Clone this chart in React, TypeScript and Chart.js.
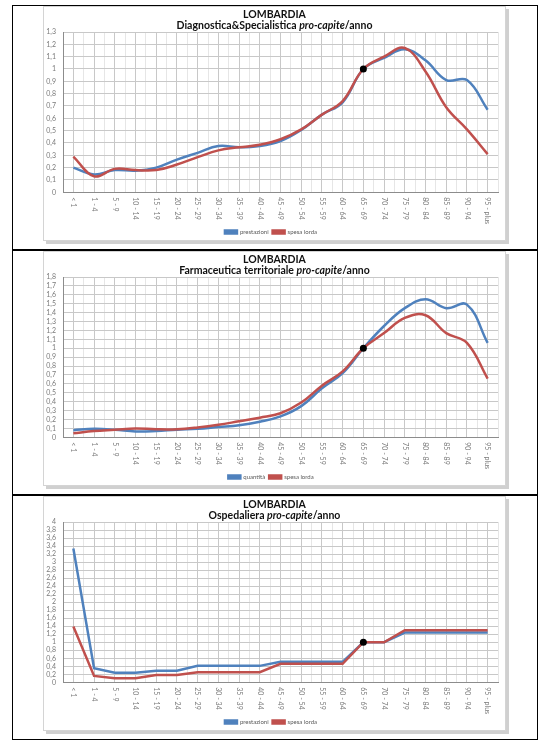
import React, { useEffect, useRef } from "react";
import { Chart, registerables } from "chart.js";

Chart.register(...registerables);

const categories = [
  "< 1", "1 - 4", "5 - 9", "10 - 14", "15 - 19", "20 - 24", "25 - 29", "30 - 34",
  "35 - 39", "40 - 44", "45 - 49", "50 - 54", "55 - 59", "60 - 64", "65 - 69",
  "70 - 74", "75 - 79", "80 - 84", "85 - 89", "90 - 94", "95 - plus",
];

// Panel 1: Diagnostica & Specialistica
const diagPrestazioni = [0.2, 0.145, 0.18, 0.175, 0.2, 0.265, 0.32, 0.375, 0.365, 0.375, 0.415, 0.505, 0.63, 0.73, 1.0, 1.09, 1.16, 1.07, 0.91, 0.91, 0.67];
const diagSpesa = [0.29, 0.13, 0.19, 0.18, 0.18, 0.225, 0.285, 0.34, 0.365, 0.385, 0.43, 0.51, 0.63, 0.74, 1.0, 1.1, 1.17, 0.98, 0.69, 0.51, 0.31];

// Panel 2: Farmaceutica territoriale
const farmQuantita = [0.08, 0.095, 0.085, 0.065, 0.07, 0.085, 0.095, 0.115, 0.135, 0.175, 0.235, 0.35, 0.55, 0.72, 1.0, 1.25, 1.45, 1.55, 1.45, 1.49, 1.06];
const farmSpesa = [0.045, 0.07, 0.085, 0.1, 0.09, 0.09, 0.11, 0.14, 0.18, 0.22, 0.27, 0.39, 0.58, 0.74, 1.0, 1.17, 1.34, 1.37, 1.17, 1.06, 0.66];

// Panel 3: Ospedaliera
const ospPrestazioni = [3.34, 0.35, 0.24, 0.24, 0.29, 0.29, 0.41, 0.41, 0.41, 0.41, 0.51, 0.51, 0.51, 0.51, 1.0, 1.0, 1.24, 1.24, 1.24, 1.24, 1.24];
const ospSpesa = [1.39, 0.16, 0.1, 0.1, 0.18, 0.18, 0.25, 0.25, 0.25, 0.25, 0.46, 0.46, 0.46, 0.46, 1.0, 1.0, 1.3, 1.3, 1.3, 1.3, 1.3];

const titleRegion = "LOMBARDIA";
const panelTitles = [
  ["Diagnostica&Specialistica ", "pro-capite", "/anno"],
  ["Farmaceutica territoriale ", "pro-capite", "/anno"],
  ["Ospedaliera ", "pro-capite", "/anno"],
];
const legendLabels = [
  ["prestazioni", "spesa lorda"],
  ["quantità", "spesa lorda"],
  ["prestazioni", "spesa lorda"],
];
const yMaxes = [1.3, 1.8, 4];
const ySteps = [0.1, 0.1, 0.2];
const smooth = [true, true, false];
const seriesA = [diagPrestazioni, farmQuantita, ospPrestazioni];
const seriesB = [diagSpesa, farmSpesa, ospSpesa];
const markerIndex = 14;

const BLUE = "#4F81BD";
const RED = "#C0504D";
const FONT = "Lato, 'Open Sans', sans-serif";

const xLabelPlugin = {
  id: "xRotLabels",
  afterDraw(chart: any) {
    const xs = chart.scales.x;
    const ctx = chart.ctx;
    ctx.save();
    ctx.font = `7px ${FONT}`;
    ctx.fillStyle = "#7a7a7a";
    ctx.textAlign = "left";
    ctx.textBaseline = "middle";
    categories.forEach((lab, i) => {
      const x = xs.getPixelForValue(i);
      ctx.save();
      ctx.translate(x, xs.top + 5);
      ctx.rotate(Math.PI / 2);
      ctx.fillText(lab, 0, 0);
      ctx.restore();
    });
    ctx.restore();
  },
};

function fmt(v: number): string {
  const r = Math.round(v * 10) / 10;
  return String(r).replace(".", ",");
}

const CANVAS_W = 461;
const CANVAS_H = 238;

function Panel({ idx }: { idx: number }) {
  const ref = useRef<HTMLCanvasElement | null>(null);
  useEffect(() => {
    if (!ref.current) return;
    const a = seriesA[idx];
    const b = seriesB[idx];
    const tension = smooth[idx] ? 0.4 : 0;
    const chart = new Chart(ref.current, {
      type: "line",
      data: {
        datasets: [
          {
            label: legendLabels[idx][0],
            data: a.map((y, i) => ({ x: i, y })),
            borderColor: BLUE,
            backgroundColor: BLUE,
            borderWidth: 2.5,
            pointRadius: 0,
            tension,
            order: 2,
          },
          {
            label: legendLabels[idx][1],
            data: b.map((y, i) => ({ x: i, y })),
            borderColor: RED,
            backgroundColor: RED,
            borderWidth: 2.5,
            pointRadius: (c: any) => (c.dataIndex === markerIndex ? 3.5 : 0),
            pointBackgroundColor: "#000",
            pointBorderColor: "#000",
            pointBorderWidth: 0,
            tension,
            order: 1,
          },
        ],
      },
      options: {
        animation: false,
        responsive: false,
        layout: { padding: { top: 25, right: 7, left: 0, bottom: 0 } },
        plugins: {
          legend: {
            position: "bottom",
            labels: {
              boxWidth: 12,
              boxHeight: 3,
              padding: 4,
              color: "#595959",
              font: { size: 6, family: FONT },
              sort: (p: any, q: any) => p.datasetIndex - q.datasetIndex,
            },
          },
          title: { display: false },
          tooltip: { enabled: false },
        },
        scales: {
          x: {
            type: "linear",
            min: -0.5,
            max: categories.length - 0.5,
            ticks: { display: false, stepSize: 0.5, autoSkip: false },
            grid: {
              drawTicks: false,
              color: (c: any) => {
                const v = c.tick ? c.tick.value : 0;
                return Math.abs(v - Math.round(v)) < 1e-6 ? "#c8c8c8" : "#e6e6e6";
              },
            },
            border: { color: "#8c8c8c" },
            afterFit: (s: any) => {
              s.height = 32.7;
            },
          },
          y: {
            min: 0,
            max: yMaxes[idx],
            ticks: {
              stepSize: ySteps[idx],
              autoSkip: false,
              padding: 7,
              color: "#7a7a7a",
              font: { size: 7, family: FONT },
              callback: (v: any) => fmt(Number(v)),
            },
            grid: { drawTicks: false, color: "#c8c8c8" },
            border: { color: "#8c8c8c" },
            afterFit: (s: any) => {
              s.width = 19;
            },
          },
        },
      },
      plugins: [xLabelPlugin],
    } as any);
    return () => chart.destroy();
  }, [idx]);

  const top = 5 + 245 * idx;
  return (
    <>
      <div
        style={{
          position: "absolute",
          left: 12,
          top,
          width: 526,
          height: 245,
          border: "1.5px solid #000",
          boxSizing: "border-box",
        }}
      />
      <div
        style={{
          position: "absolute",
          left: 43,
          top: top + 1,
          width: 463,
          height: 235,
          border: "1px solid #d4d4d4",
          boxSizing: "border-box",
          boxShadow: "3px 3px 0 #d0d0d0",
          background: "#fff",
        }}
      >
        <canvas
          ref={ref}
          width={CANVAS_W}
          height={CANVAS_H}
          style={{ display: "block", position: "absolute", left: 0, top: 0, width: CANVAS_W, height: CANVAS_H }}
        />
        <div
          style={{
            position: "absolute",
            left: 0,
            right: 0,
            top: 2,
            textAlign: "center",
            fontFamily: FONT,
            fontWeight: 700,
            fontSize: 10.5,
            lineHeight: "11px",
            color: "#111",
          }}
        >
          <div>{titleRegion}</div>
          <div>
            {panelTitles[idx][0]}
            <i>{panelTitles[idx][1]}</i>
            {panelTitles[idx][2]}
          </div>
        </div>
      </div>
    </>
  );
}

export default function App() {
  return (
    <div style={{ position: "absolute", left: 0, top: 0, width: 555, height: 755, background: "#fff" }}>
      {[0, 1, 2].map((i) => (
        <Panel key={i} idx={i} />
      ))}
    </div>
  );
}
